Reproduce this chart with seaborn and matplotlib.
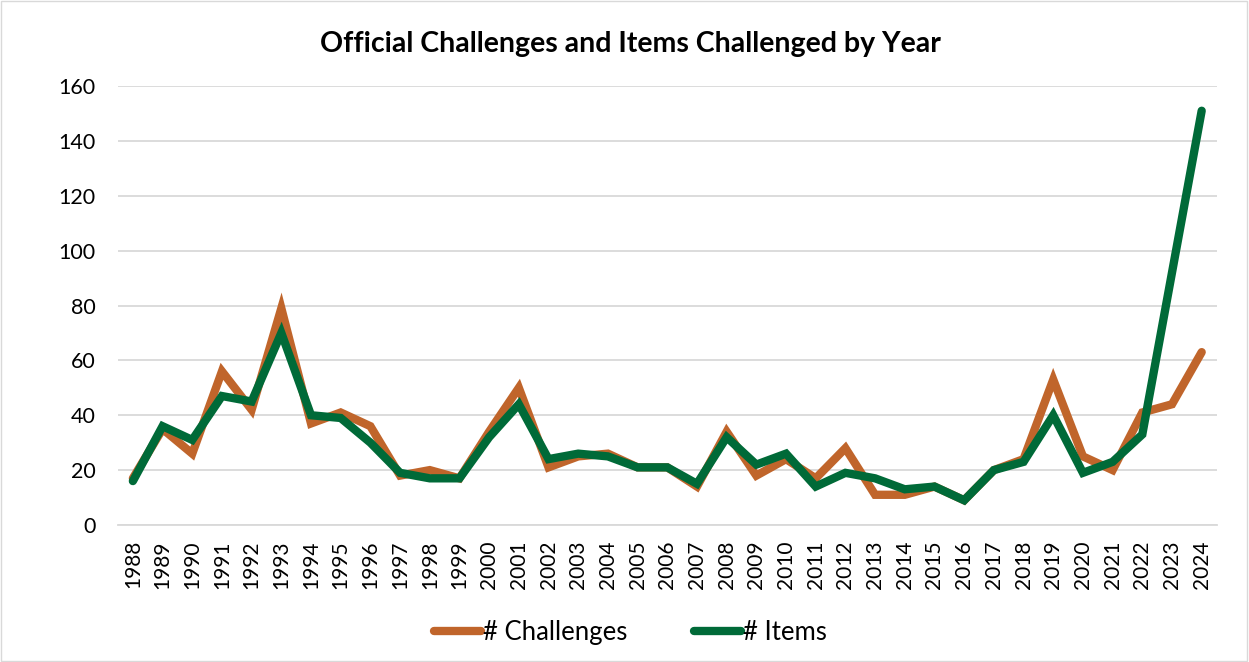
import pandas as pd
import matplotlib.pyplot as plt
import seaborn as sns

years = list(range(1988, 2025))
challenges = [17, 35, 26, 56, 42, 79, 37, 41, 36, 18, 20, 17, 34, 50, 21, 25, 26, 21, 21, 14,
              34, 18, 24, 17, 28, 11, 11, 14, 9, 20, 24, 53, 25, 20, 41, 44, 63]
items = [16, 36, 31, 47, 45, 70, 40, 39, 30, 19, 17, 17, 32, 44, 24, 26, 25, 21, 21, 15,
         32, 22, 26, 14, 19, 17, 13, 14, 9, 20, 23, 40, 19, 23, 33, 92, 151]
series_names = ['# Challenges', '# Items']
colors = ['#C0652B', '#006A38']

df = pd.DataFrame({'year': years, series_names[0]: challenges, series_names[1]: items})
long_df = df.melt(id_vars='year', var_name='series', value_name='count')

sns.set_theme(style='white')
plt.rcParams['font.family'] = ['Lato', 'DejaVu Sans']
plt.rcParams['text.color'] = 'black'
plt.rcParams['xtick.color'] = 'black'
plt.rcParams['ytick.color'] = 'black'

fig = plt.figure(figsize=(12.49, 6.62), dpi=100)
ax = fig.add_axes([0.0945, 0.207, 0.8795, 0.663])

sns.lineplot(data=long_df, x='year', y='count', hue='series', palette=colors,
             linewidth=6, ax=ax, legend=True)
for line in ax.get_lines():
    line.set_solid_capstyle('round')
    line.set_solid_joinstyle('miter')

ax.set_xlim(1987.5, 2024.5)
ax.set_ylim(0, 160)
ax.set_yticks(range(0, 161, 20))
ax.set_xticks(years)
ax.set_xticklabels([str(y) for y in years], rotation=90, fontsize=15)
ax.tick_params(axis='y', labelsize=15.5, length=0, pad=16)
ax.tick_params(axis='x', length=0, pad=11)
ax.yaxis.grid(True, color='#D9D9D9', linewidth=1.3)
ax.set_axisbelow(True)
for s in ['top', 'right', 'left']:
    ax.spines[s].set_visible(False)
ax.spines['bottom'].set_color('#D9D9D9')
ax.spines['bottom'].set_linewidth(1.3)
ax.set_xlabel('')
ax.set_ylabel('')

fig.text(0.505, 0.933, 'Official Challenges and Items Challenged by Year',
         ha='center', va='center', fontsize=20.5, fontweight='bold')

handles, labels = ax.get_legend_handles_labels()
ax.legend_.remove()
for h in handles:
    h.set_linewidth(6)
    h.set_solid_capstyle('round')
fig.legend(handles, labels, loc='center', bbox_to_anchor=(0.505, 0.045), ncol=2,
           frameon=False, fontsize=18.5, handlelength=1.8, handletextpad=0.1,
           columnspacing=2.6)

fig.patches.append(plt.Rectangle((0.001, 0.002), 0.997, 0.996, transform=fig.transFigure,
                                 fill=False, edgecolor='#D9D9D9', linewidth=1))

fig.savefig('out.png', dpi=100)
